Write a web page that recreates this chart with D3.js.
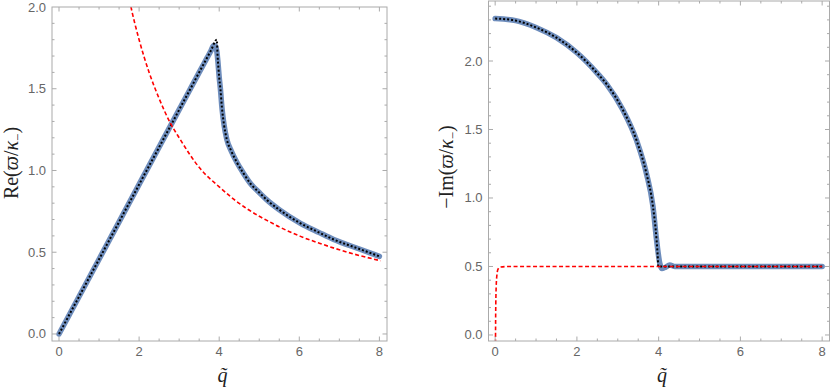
<!DOCTYPE html>
<html>
<head>
<meta charset="utf-8">
<script src="https://cdn.jsdelivr.net/npm/d3@7"></script>
<style>
  body { margin: 0; background: #fff; }
  .tick-label { font-family: "Liberation Sans", Arial, sans-serif; font-size: 13px; fill: #666; }
  .axis-title { font-family: "Liberation Serif", "DejaVu Serif", serif; font-size: 20px; fill: #222; }
</style>
</head>
<body>
<div id="chart"></div>
<script>
// data: [q, value]
var reBlue = [[0,0],[1,0.457],[2,0.915],[3,1.372],[3.5,1.6],[3.7,1.69],[3.8,1.735],[3.86,1.765],[3.9,1.765],[3.94,1.73],[3.97,1.66],[4.0,1.57],[4.03,1.5],[4.07,1.38],[4.12,1.28],[4.19,1.19],[4.3,1.12],[4.44,1.05],[4.6,0.985],[4.78,0.92],[5.0,0.865],[5.19,0.82],[5.5,0.76],[6.03,0.677],[6.5,0.62],[6.86,0.578],[7.5,0.52],[8.0,0.475]];
var reBlack = [[0,0],[1,0.457],[2,0.914],[3,1.371],[3.5,1.6],[3.8,1.737],[3.94,1.80],[3.96,1.70],[3.98,1.63],[4.0,1.57],[4.03,1.5],[4.07,1.38],[4.12,1.28],[4.19,1.19],[4.3,1.12],[4.44,1.05],[4.6,0.985],[4.78,0.92],[5.0,0.865],[5.19,0.82],[5.5,0.76],[6.03,0.677],[6.5,0.62],[6.86,0.578],[7.5,0.52],[8.0,0.475]];
var reRed = [[1.7,2.12],[1.78,2.02],[2.0,1.8],[2.25,1.6],[2.5,1.44],[2.78,1.29],[3.0,1.2],[3.53,1.01],[4.0,0.9],[4.36,0.825],[5.0,0.72],[5.19,0.695],[5.5,0.655],[6.03,0.597],[6.5,0.555],[7.0,0.515],[7.5,0.48],[8.03,0.448]];

var imBlue = [[0,2.31],[0.5,2.295],[1.0,2.245],[1.5,2.17],[2.0,2.06],[2.5,1.91],[2.73,1.83],[3.13,1.64],[3.46,1.42],[3.7,1.18],[3.86,0.94],[3.95,0.69],[4.03,0.52],[4.08,0.485],[4.17,0.495],[4.27,0.51],[4.4,0.5],[5,0.5],[6,0.5],[7,0.5],[8,0.5]];
var imBlack = [[0,2.31],[0.5,2.295],[1.0,2.245],[1.5,2.17],[2.0,2.06],[2.5,1.91],[2.73,1.83],[3.13,1.64],[3.46,1.42],[3.7,1.18],[3.86,0.94],[3.95,0.69],[3.98,0.56],[3.99,0.5],[5,0.5],[6,0.5],[7,0.5],[8,0.5]];
var imRed = [[0.005,-0.3],[0.01,0.05],[0.02,0.3],[0.04,0.43],[0.07,0.48],[0.12,0.495],[0.3,0.5],[2,0.5],[4,0.5],[6,0.5],[8,0.5]];

var xTicks = [0, 2, 4, 6, 8];
var reYTicks = [0, 0.5, 1.0, 1.5, 2.0];
var imYTicks = [0, 0.5, 1.0, 1.5, 2.0];

var svg = d3.select("#chart").append("svg")
  .attr("width", 830)
  .attr("height", 390);

var blue = "#5e81b5", red = "#ff0000";

function panel(opt) {
  var x = d3.scaleLinear().domain(opt.xDomain).range([opt.left, opt.right]);
  var y = d3.scaleLinear().domain(opt.yDomain).range([opt.bottom, opt.top]);
  var g = svg.append("g");
  var clipId = "clip" + opt.id;
  g.append("clipPath").attr("id", clipId).append("rect")
    .attr("x", opt.left).attr("y", opt.top)
    .attr("width", opt.right - opt.left).attr("height", opt.bottom - opt.top);

  var line = d3.line().x(d => x(d[0])).y(d => y(d[1])).curve(d3.curveMonotoneX);
  var plot = g.append("g").attr("clip-path", "url(#" + clipId + ")");

  plot.append("path").datum(opt.blue).attr("d", line)
    .attr("fill", "none").attr("stroke", blue).attr("stroke-width", 5.5)
    .attr("stroke-linejoin", "round").attr("stroke-linecap", "round").attr("opacity", 0.9);
  plot.append("path").datum(opt.black).attr("d", line)
    .attr("fill", "none").attr("stroke", "#000").attr("stroke-width", 2)
    .attr("stroke-dasharray", "2,2");
  plot.append("path").datum(opt.red).attr("d", line)
    .attr("fill", "none").attr("stroke", red).attr("stroke-width", 1.6)
    .attr("stroke-dasharray", "4,2.5");

  // frame with inward ticks on all four sides
  var axCol = "#aaa";
  var xMinor = d3.range(0, 8.01, 0.5);
  var yMinor = d3.range(0, opt.yDomain[1], 0.1).map(v => Math.round(v * 10) / 10);

  g.append("rect").attr("x", opt.left).attr("y", opt.top)
    .attr("width", opt.right - opt.left).attr("height", opt.bottom - opt.top)
    .attr("fill", "none").attr("stroke", axCol).attr("stroke-width", 1);

  xMinor.forEach(function(v) {
    var major = xTicks.indexOf(v) >= 0;
    var len = major ? 4.5 : 2.5;
    g.append("line").attr("x1", x(v)).attr("x2", x(v)).attr("y1", opt.bottom).attr("y2", opt.bottom - len).attr("stroke", axCol);
    g.append("line").attr("x1", x(v)).attr("x2", x(v)).attr("y1", opt.top).attr("y2", opt.top + len).attr("stroke", axCol);
  });
  yMinor.forEach(function(v) {
    var major = opt.yTicks.some(t => Math.abs(t - v) < 1e-6);
    var len = major ? 4.5 : 2.5;
    g.append("line").attr("y1", y(v)).attr("y2", y(v)).attr("x1", opt.left).attr("x2", opt.left + len).attr("stroke", axCol);
    g.append("line").attr("y1", y(v)).attr("y2", y(v)).attr("x1", opt.right).attr("x2", opt.right - len).attr("stroke", axCol);
  });

  g.selectAll(".xl").data(xTicks).enter().append("text")
    .attr("class", "tick-label")
    .attr("x", d => x(d)).attr("y", opt.bottom + 15)
    .attr("text-anchor", "middle").text(d => d);
  g.selectAll(".yl").data(opt.yTicks).enter().append("text")
    .attr("class", "tick-label")
    .attr("x", opt.left - 6).attr("y", d => y(d) + 4.5)
    .attr("text-anchor", "end").text(d => d.toFixed(1));

  // x title
  g.append("text").attr("class", "axis-title")
    .attr("x", (opt.left + opt.right) / 2 + 3).attr("y", 382)
    .attr("text-anchor", "middle").style("font-style", "italic")
    .text("q\u0303");

  // y title
  var yt = g.append("text").attr("class", "axis-title")
    .attr("transform", "translate(" + opt.yTitleX + "," + opt.yTitleY + ") rotate(-90)")
    .attr("text-anchor", "middle");
  yt.append("tspan").text(opt.prefix + "(");
  yt.append("tspan").style("font-style", "italic").text("\u03d6");
  yt.append("tspan").text("/");
  yt.append("tspan").style("font-style", "italic").text("\u03ba");
  yt.append("tspan").attr("dy", 4).style("font-size", "13px").text("\u2212");
  yt.append("tspan").attr("dy", -4).text(")");
}

panel({
  id: 1, xDomain: [-0.175, 8.19], yDomain: [-0.043, 2.0],
  left: 52, right: 387, top: 7, bottom: 341,
  blue: reBlue, black: reBlack, red: reRed, yTicks: reYTicks,
  prefix: "Re", yTitleX: 18, yTitleY: 163
});
panel({
  id: 2, xDomain: [-0.163, 8.18], yDomain: [-0.044, 2.438],
  left: 488.5, right: 829.5, top: 1, bottom: 341,
  blue: imBlue, black: imBlack, red: imRed, yTicks: imYTicks,
  prefix: "\u2212Im", yTitleX: 453, yTitleY: 167
});
</script>
</body>
</html>
